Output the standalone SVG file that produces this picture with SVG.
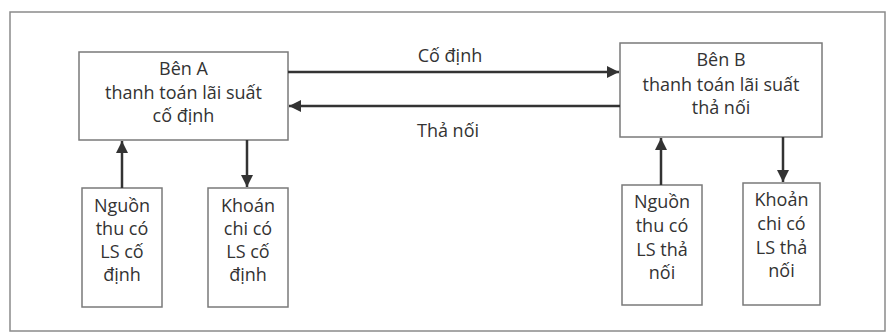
<svg xmlns="http://www.w3.org/2000/svg" width="890" height="336" viewBox="0 0 890 336">
<style>
.frame{fill:none;stroke:#8a8a8a;stroke-width:1.5}
.box{fill:#fff;stroke:#7a7a7a;stroke-width:1.5}
.t{font-family:"Open Sans","Noto Sans",sans-serif;font-size:18px;fill:#333;text-anchor:middle}
.c{stroke:#333;stroke-width:2.5;fill:none}
</style>
<defs>
<marker id="ah" markerUnits="userSpaceOnUse" markerWidth="14" markerHeight="14" viewBox="0 0 14 14" refX="13" refY="7" orient="auto">
<path d="M1,1 L13,7 L1,13 Z" fill="#333"/>
</marker>
</defs>
<rect x="0" y="0" width="890" height="336" fill="#fff"/>
<rect class="frame" x="10" y="12" width="875" height="319"/>
<g id="benA">
<rect class="box" x="79" y="52" width="209" height="88"/>
<text class="t" x="183.5" y="75">Bên A</text>
<text class="t" x="183.5" y="99">thanh toán lãi suất</text>
<text class="t" x="183.5" y="122">cố định</text>
</g>
<g id="benB">
<rect class="box" x="620" y="43" width="202" height="94"/>
<text class="t" x="721" y="66">Bên B</text>
<text class="t" x="721" y="91">thanh toán lãi suất</text>
<text class="t" x="721" y="114">thả nối</text>
</g>
<g id="thuA">
<rect class="box" x="82" y="188" width="80" height="119"/>
<text class="t" x="122" y="212">Nguồn</text>
<text class="t" x="122" y="235">thu có</text>
<text class="t" x="122" y="258">LS cố</text>
<text class="t" x="122" y="281">định</text>
</g>
<g id="chiA">
<rect class="box" x="208" y="188" width="80" height="119"/>
<text class="t" x="248" y="212">Khoán</text>
<text class="t" x="248" y="235">chi có</text>
<text class="t" x="248" y="258">LS cố</text>
<text class="t" x="248" y="281">định</text>
</g>
<g id="thuB">
<rect class="box" x="622" y="185" width="80" height="120"/>
<text class="t" x="662" y="208">Nguồn</text>
<text class="t" x="662" y="232">thu có</text>
<text class="t" x="662" y="256">LS thả</text>
<text class="t" x="662" y="279">nối</text>
</g>
<g id="chiB">
<rect class="box" x="743" y="183" width="77" height="122"/>
<text class="t" x="781.5" y="206">Khoản</text>
<text class="t" x="781.5" y="230">chi có</text>
<text class="t" x="781.5" y="254">LS thả</text>
<text class="t" x="781.5" y="277">nối</text>
</g>
<g id="connectors">
<line class="c" x1="288" y1="72" x2="619" y2="72" marker-end="url(#ah)"/>
<line class="c" x1="620" y1="106" x2="289" y2="106" marker-end="url(#ah)"/>
<line class="c" x1="122" y1="188" x2="122" y2="141" marker-end="url(#ah)"/>
<line class="c" x1="247" y1="140" x2="247" y2="187" marker-end="url(#ah)"/>
<line class="c" x1="661" y1="185" x2="661" y2="138" marker-end="url(#ah)"/>
<line class="c" x1="783" y1="137" x2="783" y2="182" marker-end="url(#ah)"/>
<text class="t" x="450" y="62">Cố định</text>
<text class="t" x="448" y="137">Thả nối</text>
</g>
</svg>
